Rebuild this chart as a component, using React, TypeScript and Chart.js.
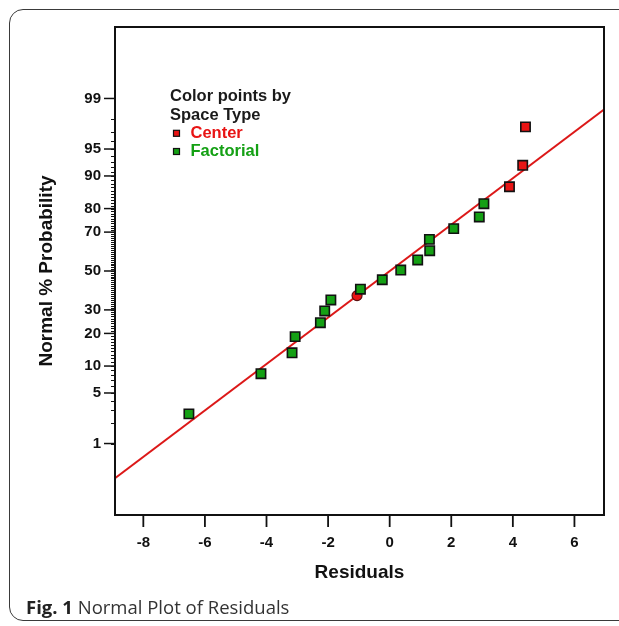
import React, { useEffect, useRef } from "react";
import { Chart, registerables } from "chart.js";

Chart.register(...registerables);

// ---- data ----
const centerResidual = [4.41, 4.32, 3.89];
const centerProb = [97.4, 92.3, 87.2];

const factorialResidual = [3.06, 2.91, 2.08, 1.29, 1.3, 0.91, 0.36, -0.24, -0.95, -1.91, -2.11, -2.25, -3.07, -3.17, -4.18, -6.52];
const factorialProb = [81.8, 76.7, 71.6, 66.5, 60.8, 55.9, 50.5, 45.3, 40.3, 34.8, 29.5, 24.3, 18.8, 13.5, 8.3, 2.7];

const circleResidual = [-1.06];
const circleProb = [37.0];

const fitResidual = [-8.92, 6.96];
const fitProb = [0.26, 98.53];

const xTicks = [-8, -6, -4, -2, 0, 2, 4, 6];
const yTickLabels = [1, 5, 10, 20, 30, 50, 70, 80, 90, 95, 99];
const yMinorTicks = Array.from({ length: 99 }, (_, i) => i + 1);

// inverse standard normal CDF (Acklam)
function probit(p: number): number {
  const a = [-3.969683028665376e1, 2.209460984245205e2, -2.759285104469687e2, 1.38357751867269e2, -3.066479806614716e1, 2.506628277459239];
  const b = [-5.447609879822406e1, 1.615858368580409e2, -1.556989798598866e2, 6.680131188771972e1, -1.328068155288572e1];
  const c = [-7.784894002430293e-3, -3.223964580411365e-1, -2.400758277161838, -2.549732539343734, 4.374664141464968, 2.938163982698783];
  const d = [7.784695709041462e-3, 3.224671290700398e-1, 2.445134137142996, 3.754408661907416];
  const plow = 0.02425;
  if (p < plow) {
    const q = Math.sqrt(-2 * Math.log(p));
    return (((((c[0] * q + c[1]) * q + c[2]) * q + c[3]) * q + c[4]) * q + c[5]) / ((((d[0] * q + d[1]) * q + d[2]) * q + d[3]) * q + 1);
  }
  if (p <= 1 - plow) {
    const q = p - 0.5;
    const r = q * q;
    return ((((((a[0] * r + a[1]) * r + a[2]) * r + a[3]) * r + a[4]) * r + a[5]) * q) / (((((b[0] * r + b[1]) * r + b[2]) * r + b[3]) * r + b[4]) * r + 1);
  }
  const q = Math.sqrt(-2 * Math.log(1 - p));
  return -(((((c[0] * q + c[1]) * q + c[2]) * q + c[3]) * q + c[4]) * q + c[5]) / ((((d[0] * q + d[1]) * q + d[2]) * q + d[3]) * q + 1);
}

const pts = (xs: number[], ps: number[]) => xs.map((x, i) => ({ x, y: probit(ps[i] / 100) }));

const FONT = "'Liberation Sans', Arial, sans-serif";
const RED = "#e81414";
const GREEN = "#14a014";

const framePlugin = {
  id: "frame",
  afterDraw(chart: any) {
    const { ctx, chartArea } = chart;
    const { left, right, top, bottom } = chartArea;
    const xs = chart.scales.x;
    const ys = chart.scales.y;
    ctx.save();
    ctx.strokeStyle = "#111";
    // box
    ctx.lineWidth = 2;
    ctx.strokeRect(left, top, right - left, bottom - top);
    // y minor ticks
    ctx.lineWidth = 1;
    yMinorTicks.forEach((p) => {
      const y = Math.round(ys.getPixelForValue(probit(p / 100))) + 0.5;
      ctx.beginPath();
      ctx.moveTo(left - 4, y);
      ctx.lineTo(left, y);
      ctx.stroke();
    });
    // y major ticks
    ctx.lineWidth = 1.5;
    yTickLabels.forEach((p) => {
      const y = ys.getPixelForValue(probit(p / 100));
      ctx.beginPath();
      ctx.moveTo(left - 11, y);
      ctx.lineTo(left, y);
      ctx.stroke();
    });
    // x ticks
    ctx.lineWidth = 1.8;
    xTicks.forEach((v) => {
      const x = xs.getPixelForValue(v);
      ctx.beginPath();
      ctx.moveTo(x, bottom);
      ctx.lineTo(x, bottom + 12);
      ctx.stroke();
    });
    // legend
    ctx.font = `bold 16.5px ${FONT}`;
    ctx.textBaseline = "alphabetic";
    ctx.textAlign = "left";
    ctx.fillStyle = "#1a1a1a";
    ctx.fillText("Color points by", 170, 101);
    ctx.fillText("Space Type", 170, 119.5);
    const entries = [
      { label: "Center", color: RED, y: 137.8 },
      { label: "Factorial", color: GREEN, y: 156 },
    ];
    entries.forEach((e) => {
      ctx.fillStyle = e.color;
      ctx.fillRect(173.5, e.y - 7.5, 6, 6);
      ctx.lineWidth = 1.2;
      ctx.strokeStyle = "#111";
      ctx.strokeRect(173.5, e.y - 7.5, 6, 6);
      ctx.fillStyle = e.color;
      ctx.fillText(e.label, 190.5, e.y);
    });
    ctx.restore();
  },
};

export default function App() {
  const canvasRef = useRef<HTMLCanvasElement | null>(null);

  useEffect(() => {
    if (!canvasRef.current) return;
    const chart = new Chart(canvasRef.current, {
      type: "scatter",
      data: {
        datasets: [
          {
            label: "Center",
            data: pts(centerResidual, centerProb),
            pointStyle: "rect",
            pointRadius: 6.6,
            backgroundColor: RED,
            borderColor: "#111",
            borderWidth: 1.6,
          },
          {
            label: "Factorial",
            data: pts(factorialResidual, factorialProb),
            pointStyle: "rect",
            pointRadius: 6.6,
            backgroundColor: GREEN,
            borderColor: "#111",
            borderWidth: 1.6,
          },
          {
            label: "Center (circle)",
            data: pts(circleResidual, circleProb),
            pointStyle: "circle",
            pointRadius: 5,
            backgroundColor: RED,
            borderColor: "#5a1010",
            borderWidth: 1.2,
          },
          {
            type: "line",
            label: "Fit",
            data: pts(fitResidual, fitProb),
            borderColor: "#dc1818",
            borderWidth: 2,
            pointRadius: 0,
            fill: false,
          } as any,
        ],
      },
      options: {
        responsive: false,
        animation: false,
        layout: { padding: { left: 0, top: 27, right: 15, bottom: 0 } },
        plugins: { legend: { display: false }, tooltip: { enabled: false } },
        scales: {
          x: {
            type: "linear",
            min: fitResidual[0],
            max: fitResidual[1],
            grid: { display: false, drawTicks: false },
            border: { display: false },
            afterBuildTicks: (s: any) => {
              s.ticks = xTicks.map((v) => ({ value: v }));
            },
            afterFit: (s: any) => {
              s.height = 85;
            },
            ticks: {
              autoSkip: false,
              maxRotation: 0,
              padding: 19,
              color: "#111",
              font: { family: FONT, size: 15, weight: "bold" },
              callback: (v: any) => String(v),
            },
            title: {
              display: true,
              text: "Residuals",
              color: "#111",
              font: { family: FONT, size: 19, weight: "bold" },
              padding: { top: 0, bottom: 15.6 },
            },
          },
          y: {
            type: "linear",
            min: -3.29,
            max: 3.29,
            grid: { display: false, drawTicks: false },
            border: { display: false },
            afterBuildTicks: (s: any) => {
              s.ticks = yTickLabels.map((p) => ({ value: probit(p / 100) }));
            },
            afterFit: (s: any) => {
              s.width = 115;
            },
            ticks: {
              autoSkip: false,
              padding: 14,
              color: "#111",
              font: { family: FONT, size: 15, weight: "bold" },
              callback: (_v: any, i: number) => String(yTickLabels[i]),
            },
            title: {
              display: true,
              text: "Normal % Probability",
              color: "#111",
              font: { family: FONT, size: 19, weight: "bold" },
              padding: { top: 35.6, bottom: 0 },
            },
          },
        },
      },
      plugins: [framePlugin],
    });
    return () => chart.destroy();
  }, []);

  return (
    <div style={{ position: "absolute", left: 0, top: 0, width: 619, height: 626, overflow: "hidden", background: "#fff" }}>
      <div
        style={{
          position: "absolute",
          left: 8.5,
          top: 8.5,
          width: 700,
          height: 612,
          border: "1.5px solid #3a3a3a",
          borderRadius: 14,
          boxSizing: "border-box",
        }}
      />
      <canvas ref={canvasRef} width={619} height={600} style={{ position: "absolute", left: 0, top: 0 }} />
      <div
        style={{
          position: "absolute",
          left: 26,
          top: 594,
          fontFamily: "'Open Sans', sans-serif",
          fontSize: 18.5,
          color: "#333",
          whiteSpace: "nowrap",
        }}
      >
        <span style={{ fontWeight: 700, color: "#222" }}>Fig. 1</span> Normal Plot of Residuals
      </div>
    </div>
  );
}
